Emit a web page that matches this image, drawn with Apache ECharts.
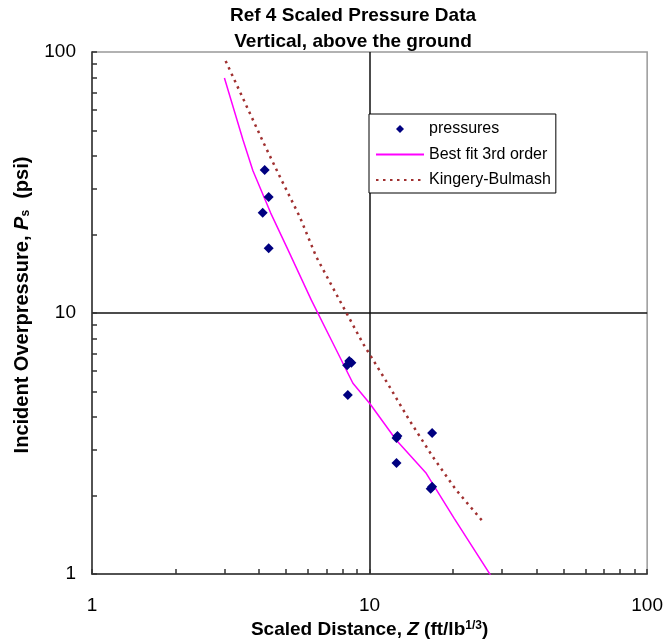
<!DOCTYPE html>
<html>
<head>
<meta charset="utf-8">
<script src="https://cdn.jsdelivr.net/npm/echarts@6/dist/echarts.min.js"></script>
<style>html,body{margin:0;padding:0;background:#fff}#c{width:666px;height:644px}</style>
</head>
<body>
<div id="c"></div>
<script>
// Scaled distance Z (ft/lb^1/3) and incident overpressure Ps (psi)
const pressuresX = [4.19, 4.33, 4.12, 4.33, 8.45, 8.30, 8.60, 8.35, 12.6, 12.5, 12.5, 16.8, 16.8, 16.6];
const pressuresY = [35.3, 27.8, 24.2, 17.7, 6.55, 6.30, 6.45, 4.85, 3.38, 3.32, 2.66, 3.47, 2.16, 2.12];

const fitX = [3.0, 3.5, 3.80, 4.40, 5.04, 6.17, 7.28, 8.71, 10.0, 12.47, 16.0, 20.2, 27.7];
const fitY = [79.5, 46.0, 35.1, 24.2, 17.8, 11.2, 7.88, 5.38, 4.51, 3.26, 2.43, 1.63, 0.965];

const kbX = [3.03, 4.17, 4.75, 5.60, 6.43, 7.69, 9.46, 11.6, 13.9, 16.9, 20.5, 25.7];
const kbY = [92.4, 44.4, 33.3, 23.4, 16.4, 11.5, 7.65, 5.38, 3.89, 2.81, 2.10, 1.58];

const tickValues = [1,2,3,4,5,6,7,8,9,10,20,30,40,50,60,70,80,90,100];
const seriesNames = ['pressures', 'Best fit 3rd order', 'Kingery-Bulmash'];
const titleLines = ['Ref 4 Scaled Pressure Data', 'Vertical, above the ground'];

const zip = (a, b) => a.map((v, i) => [v, b[i]]);
const FONT = '"Liberation Sans", Arial, sans-serif';

// main axes: line, ticks, labels, name
const mainAxis = {
  type: 'log',
  logBase: 10,
  min: 1,
  max: 100,
  axisLine: { show: true, lineStyle: { color: '#333', width: 1.5 } },
  axisTick: { show: true, inside: true, length: 5, customValues: tickValues, lineStyle: { color: '#333', width: 1.5 } },
  splitLine: { show: false },
  minorTick: { show: false },
  axisLabel: { color: '#000', fontSize: 19, fontFamily: FONT },
  nameLocation: 'middle'
};
// helper axes that only draw the decade grid line
const gridAxis = {
  type: 'log',
  logBase: 10,
  min: 1,
  max: 100,
  axisLine: { show: false },
  axisTick: { show: false },
  axisLabel: { show: false },
  splitLine: { show: true, showMinLine: false, showMaxLine: false, lineStyle: { color: '#111', width: 1.5 } }
};

const chart = echarts.init(document.getElementById('c'), null, { renderer: 'canvas' });
chart.setOption({
  backgroundColor: '#fff',
  animation: false,
  title: {
    text: titleLines.join('\n'),
    left: 348,
    top: -2,
    textAlign: 'center',
    textStyle: { fontFamily: FONT, fontWeight: 'bold', fontSize: 19, lineHeight: 26, color: '#000' }
  },
  grid: { left: 92, right: 18, top: 52, bottom: 70, show: true, borderColor: '#999', borderWidth: 1.5, backgroundColor: '#fff' },
  legend: {
    orient: 'vertical',
    left: 369,
    top: 114,
    padding: [7, 5, 5, 6],
    itemWidth: 48,
    itemHeight: 14,
    itemGap: 9.5,
    borderColor: '#000',
    borderWidth: 1,
    backgroundColor: '#fff',
    textStyle: { fontFamily: FONT, fontSize: 16, lineHeight: 14, color: '#000' },
    data: [
      { name: seriesNames[0], icon: 'path://M0,7L0.01,7L0,7.01Z M48,7L47.99,7L48,7.01Z M24,3L28,7L24,11L20,7Z', itemStyle: { color: '#000080', opacity: 1 } },
      { name: seriesNames[1], itemStyle: { opacity: 0 } },
      { name: seriesNames[2], itemStyle: { opacity: 0 } }
    ]
  },
  xAxis: [
    Object.assign({}, mainAxis, {
      name: 'Scaled Distance, {i|Z} (ft/lb{sup|1/3})',
      nameGap: 45,
      axisLabel: Object.assign({}, mainAxis.axisLabel, { margin: 22 }),
      nameTextStyle: {
        fontFamily: FONT, fontWeight: 'bold', fontSize: 19, color: '#000',
        rich: {
          i: { fontFamily: FONT, fontWeight: 'bold', fontStyle: 'italic', fontSize: 19 },
          sup: { fontFamily: FONT, fontWeight: 'bold', fontSize: 12, verticalAlign: 'top', lineHeight: 19 }
        }
      }
    }),
    Object.assign({}, gridAxis, { position: 'bottom' })
  ],
  yAxis: [
    Object.assign({}, mainAxis, {
      name: 'Incident Overpressure, {i|P}{sub|s}  (psi)',
      nameGap: 60,
      nameRotate: 90,
      axisLabel: Object.assign({}, mainAxis.axisLabel, { margin: 16 }),
      nameTextStyle: {
        fontFamily: FONT, fontWeight: 'bold', fontSize: 20, color: '#000',
        padding: [0, 0, 0, 16],
        rich: {
          i: { fontFamily: FONT, fontWeight: 'bold', fontStyle: 'italic', fontSize: 20 },
          sub: { fontFamily: FONT, fontWeight: 'bold', fontSize: 12, verticalAlign: 'bottom', lineHeight: 20 }
        }
      }
    }),
    Object.assign({}, gridAxis, { position: 'left' })
  ],
  series: [
    {
      name: seriesNames[0],
      type: 'scatter',
      symbol: 'diamond',
      symbolSize: 10,
      itemStyle: { color: '#000080', opacity: 1 },
      data: zip(pressuresX, pressuresY),
      z: 5
    },
    {
      name: seriesNames[1],
      type: 'line',
      showSymbol: false,
      symbol: 'none',
      clip: true,
      lineStyle: { color: '#ff00ff', width: 1.5 },
      itemStyle: { color: '#ff00ff' },
      data: zip(fitX, fitY),
      z: 4
    },
    {
      name: seriesNames[2],
      type: 'line',
      showSymbol: false,
      symbol: 'none',
      clip: true,
      lineStyle: { color: '#a03030', width: 2.5, type: [2.5, 4.5] },
      itemStyle: { color: '#a03030' },
      data: zip(kbX, kbY),
      z: 3
    }
  ]
});
</script>
</body>
</html>
